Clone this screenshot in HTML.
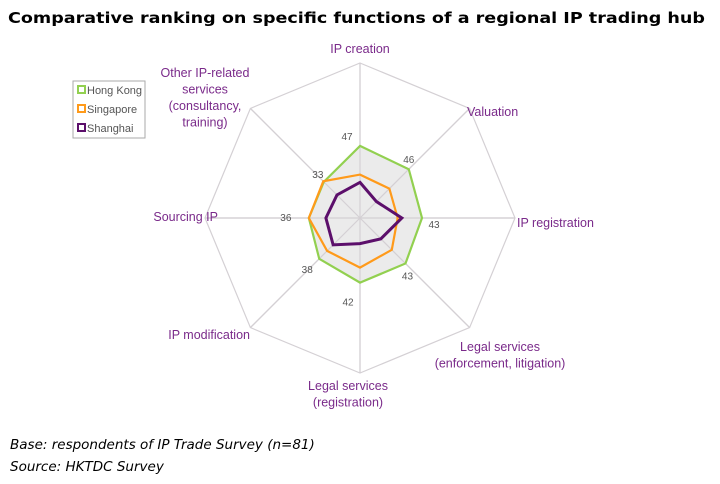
<!DOCTYPE html>
<html><head><meta charset="utf-8">
<style>
body{margin:0;background:#fff;}
svg{display:block;}
</style></head>
<body>
<svg width="720" height="484" viewBox="0 0 720 484" xmlns="http://www.w3.org/2000/svg">
<text x="8" y="23" font-family="DejaVu Sans, sans-serif" font-weight="bold" font-size="15" textLength="697" lengthAdjust="spacingAndGlyphs" fill="#000">Comparative ranking on specific functions of a regional IP trading hub</text>
<g id="grid"></g>
<g id="series"></g>
<g id="labels" font-family="Liberation Sans, sans-serif" font-size="12.5" fill="#7a2a8a"></g>
<g id="values" font-family="Liberation Sans, sans-serif" font-size="10" fill="#555"></g>
<g>
<rect x="73" y="81" width="72" height="57" fill="#fff" stroke="#aaa" stroke-width="1"/>
<rect x="78" y="86" width="7" height="7" fill="none" stroke="#92d050" stroke-width="2"/>
<text x="87" y="94" font-family="Liberation Sans, sans-serif" font-size="11" fill="#555">Hong Kong</text>
<rect x="78" y="105" width="7" height="7" fill="none" stroke="#ff9a1a" stroke-width="2"/>
<text x="87" y="113" font-family="Liberation Sans, sans-serif" font-size="11" fill="#555">Singapore</text>
<rect x="78" y="124" width="7" height="7" fill="none" stroke="#5c0f6b" stroke-width="2"/>
<text x="87" y="132" font-family="Liberation Sans, sans-serif" font-size="11" fill="#555">Shanghai</text>
</g>
<text x="10" y="449" font-family="DejaVu Sans, sans-serif" font-style="italic" font-size="13.5" fill="#000">Base: respondents of IP Trade Survey (n=81)</text>
<text x="10" y="471" font-family="DejaVu Sans, sans-serif" font-style="italic" font-size="13.5" fill="#000">Source: HKTDC Survey</text>
</svg>
<script>
const categories = ["IP creation","Valuation","IP registration","Legal services (enforcement, litigation)","Legal services (registration)","IP modification","Sourcing IP","Other IP-related services (consultancy, training)"];
const hongKong = [46.5, 44.5, 40, 41.5, 41.7, 37.2, 33, 33];
const singapore = [28, 26.8, 24.3, 29, 32, 30, 33, 33.5];
const shanghai = [23, 15, 27, 19, 16.5, 24.5, 22, 21];
const hkLabels = ["47","46","43","43","42","38","36","33"];
const maxValue = 100;

const NS = "http://www.w3.org/2000/svg";
const cx = 360, cy = 218, R = 155;
function ang(i){ return -Math.PI/2 + i*2*Math.PI/categories.length; }
function px(i, v){ return cx + Math.cos(ang(i)) * R * v / maxValue; }
function py(i, v){ return cy + Math.sin(ang(i)) * R * v / maxValue; }
function mk(tag, attrs, parent){ const e=document.createElementNS(NS,tag); for(const k in attrs) e.setAttribute(k,attrs[k]); parent.appendChild(e); return e; }

const grid = document.getElementById('grid');
const outer = categories.map((c,i)=>px(i,maxValue)+","+py(i,maxValue)).join(" ");
const oct = mk('polygon',{points:outer,fill:'none',stroke:'#d4d0d4','stroke-width':1.2},grid);


categories.forEach((c,i)=>{
  const l = mk('line',{x1:cx,y1:cy,x2:px(i,maxValue),y2:py(i,maxValue),stroke:'#d4d0d4','stroke-width':1.2},grid);
  
  
});

const sg = document.getElementById('series');
function poly(vals){ return vals.map((v,i)=>px(i,v)+","+py(i,v)).join(" "); }
const hkFill = mk('polygon',{points:poly(hongKong),fill:'#ebebeb',stroke:'none'},sg);


// redraw spokes over fill
categories.forEach((c,i)=>{
  const l = mk('line',{x1:cx,y1:cy,x2:px(i,maxValue),y2:py(i,maxValue),stroke:'#d4d0d4','stroke-width':1.2},sg);
  
  
});
const hk = mk('polygon',{points:poly(hongKong),fill:'none',stroke:'#92d050','stroke-width':2.2},sg);


const sp = mk('polygon',{points:poly(singapore),fill:'none',stroke:'#ff9a1a','stroke-width':2.2},sg);


const sh = mk('polygon',{points:poly(shanghai),fill:'none',stroke:'#5c0f6b','stroke-width':3},sg);



const vg = document.getElementById('values');
const valOff = [[-13,-6],[0,-6],[12,10],[2,16],[-12,23],[-12,14],[-23,3],[-6,-4]];
hkLabels.forEach((t,i)=>{
  const e = mk('text',{x:px(i,hongKong[i])+valOff[i][0],y:py(i,hongKong[i])+valOff[i][1],'text-anchor':'middle'},vg);
  e.textContent = t;
  
  
});

const lg = document.getElementById('labels');
const labelLines = [["IP creation"],["Valuation"],["IP registration"],["Legal services","(enforcement, litigation)"],["Legal services","(registration)"],["IP modification"],["Sourcing IP"],["Other IP-related","services","(consultancy,","training)"]];
const labelPos = [[360,53,'middle'],[467,116,'start'],[517,227,'start'],[500,351,'middle'],[348,390,'middle'],[250,339,'end'],[218,221,'end'],[205,77,'middle']];
labelLines.forEach((lines,i)=>{
  const t = mk('text',{x:labelPos[i][0],y:labelPos[i][1],'text-anchor':labelPos[i][2]},lg);
  
  
  lines.forEach((s,j)=>{
    const ts = mk('tspan',{x:labelPos[i][0],dy:j?16.5:0},t);
    ts.textContent = s;
  });
});
</script>
</body></html>
